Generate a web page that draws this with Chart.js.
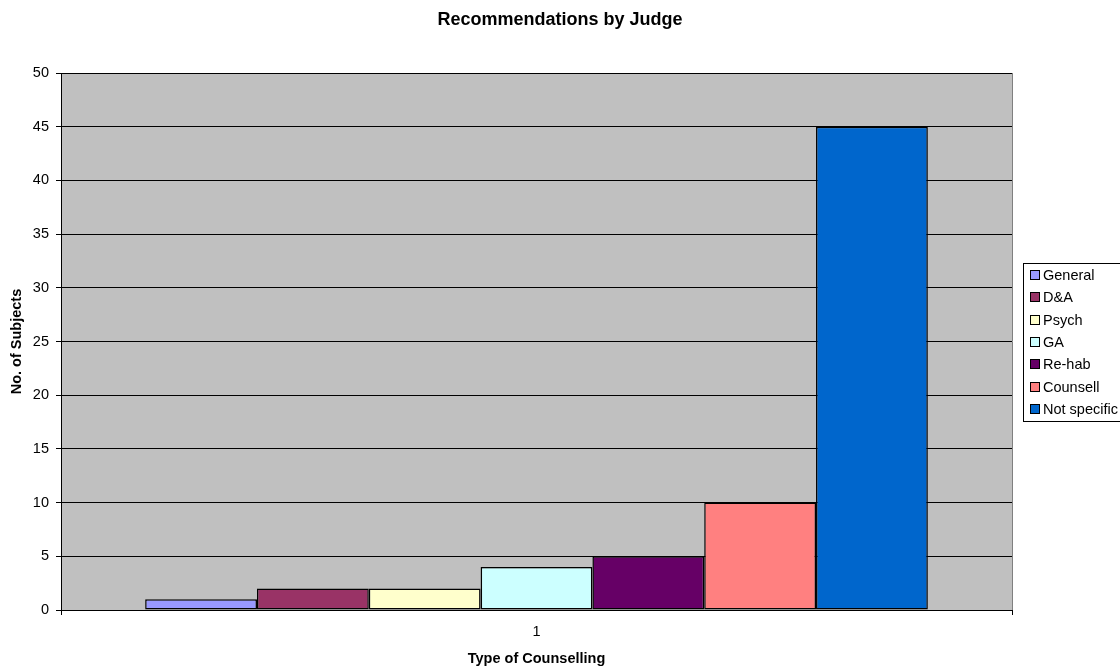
<!DOCTYPE html>
<html>
<head>
    <meta charset="UTF-8">
    <title>Recommendations by Judge</title>
    <script src="https://cdn.jsdelivr.net/npm/chart.js"></script>
    <style>
        body { margin: 0; background: #fff; }
        canvas { display: block; }
    </style>
</head>
<body>
    <canvas id="judgeChart" width="1120" height="668"></canvas>

    <script type="text/javascript">
        const categories = ['1'];
        const seriesNames = ['General', 'D&A', 'Psych', 'GA', 'Re-hab', 'Counsell', 'Not specific'];
        const seriesValues = [1, 2, 2, 4, 5, 10, 45];
        const seriesColors = ['#9999FF', '#993366', '#FFFFCC', '#CCFFFF', '#660066', '#FF8080', '#0066CC'];
        const yTicks = [0, 5, 10, 15, 20, 25, 30, 35, 40, 45, 50];
        const chartTitle = 'Recommendations by Judge';

        const FONT = "'Liberation Sans', Arial, sans-serif";

        // gray plot area with a gray frame on the right, like Excel
        const plotBackground = {
            id: 'plotBackground',
            beforeDraw(chart) {
                const { ctx, chartArea: a } = chart;
                ctx.save();
                ctx.fillStyle = '#C0C0C0';
                ctx.fillRect(a.left, a.top, a.right - a.left, a.bottom - a.top);
                ctx.restore();
            },
            afterDraw(chart) {
                const { ctx, chartArea: a } = chart;
                ctx.save();
                ctx.strokeStyle = '#808080';
                ctx.lineWidth = 1;
                ctx.beginPath();
                ctx.moveTo(Math.round(a.right) + 0.5, a.top);
                ctx.lineTo(Math.round(a.right) + 0.5, a.bottom);
                ctx.stroke();
                // title is centred on the whole picture, not on the plot
                ctx.fillStyle = '#000';
                ctx.font = 'bold 18px ' + FONT;
                ctx.textAlign = 'center';
                ctx.textBaseline = 'middle';
                ctx.fillText(chartTitle, chart.width / 2, 20);
                ctx.restore();
            }
        };

        // boxed legend on the right side
        const boxLegend = {
            id: 'boxLegend',
            afterDraw(chart) {
                const ctx = chart.ctx;
                const sets = chart.data.datasets;
                const left = 1023, top = 263, step = 22.3;
                ctx.save();
                ctx.fillStyle = '#fff';
                ctx.strokeStyle = '#000';
                ctx.lineWidth = 1;
                ctx.fillRect(left + 0.5, top + 0.5, 120, 158);
                ctx.strokeRect(left + 0.5, top + 0.5, 120, 158);
                ctx.font = '14.5px ' + FONT;
                ctx.textBaseline = 'middle';
                sets.forEach((ds, i) => {
                    const y = Math.round(top + 12 + i * step);
                    ctx.fillStyle = ds.backgroundColor;
                    ctx.fillRect(1030.5, y - 4.5, 9, 9);
                    ctx.strokeStyle = '#000';
                    ctx.strokeRect(1030.5, y - 4.5, 9, 9);
                    ctx.fillStyle = '#000';
                    ctx.fillText(ds.label, 1043, y + 1);
                });
                ctx.restore();
            }
        };

        const datasets = seriesNames.map((name, i) => ({
            label: name,
            data: [seriesValues[i]],
            backgroundColor: seriesColors[i],
            borderColor: '#000',
            borderWidth: 1.5,
            borderSkipped: false,
            categoryPercentage: 0.823,
            barPercentage: 1.0
        }));

        const ctx = document.getElementById('judgeChart').getContext('2d');
        new Chart(ctx, {
            type: 'bar',
            data: { labels: categories, datasets: datasets },
            plugins: [plotBackground, boxLegend],
            options: {
                responsive: false,
                animation: false,
                layout: { padding: { left: 0, right: 108, top: 73, bottom: 0 } },
                plugins: {
                    legend: { display: false },
                    tooltip: { enabled: false },
                    title: { display: false }
                },
                scales: {
                    x: {
                        grid: { display: true, drawOnChartArea: false, drawTicks: true, tickLength: 5, color: '#000' },
                        border: { display: true, color: '#000' },
                        ticks: { color: '#000', font: { family: FONT, size: 14.5 }, padding: 8.3 },
                        title: {
                            display: true,
                            text: 'Type of Counselling',
                            color: '#000',
                            font: { family: FONT, size: 14.5, weight: 'bold' },
                            padding: { top: 0, bottom: 0 }
                        },
                        afterFit(scale) { scale.height = 58; }
                    },
                    y: {
                        min: 0,
                        max: 50,
                        afterBuildTicks(scale) { scale.ticks = yTicks.map(v => ({ value: v })); },
                        grid: { color: '#000', tickLength: 5, drawTicks: true },
                        border: { display: true, color: '#000' },
                        ticks: { color: '#000', font: { family: FONT, size: 14.5 }, padding: 7 },
                        title: {
                            display: true,
                            text: 'No. of Subjects',
                            color: '#000',
                            font: { family: FONT, size: 14.5, weight: 'bold' },
                            padding: { top: 8.3, bottom: 0 }
                        },
                        afterFit(scale) { scale.width = 61; }
                    }
                }
            }
        });
    </script>
</body>
</html>
